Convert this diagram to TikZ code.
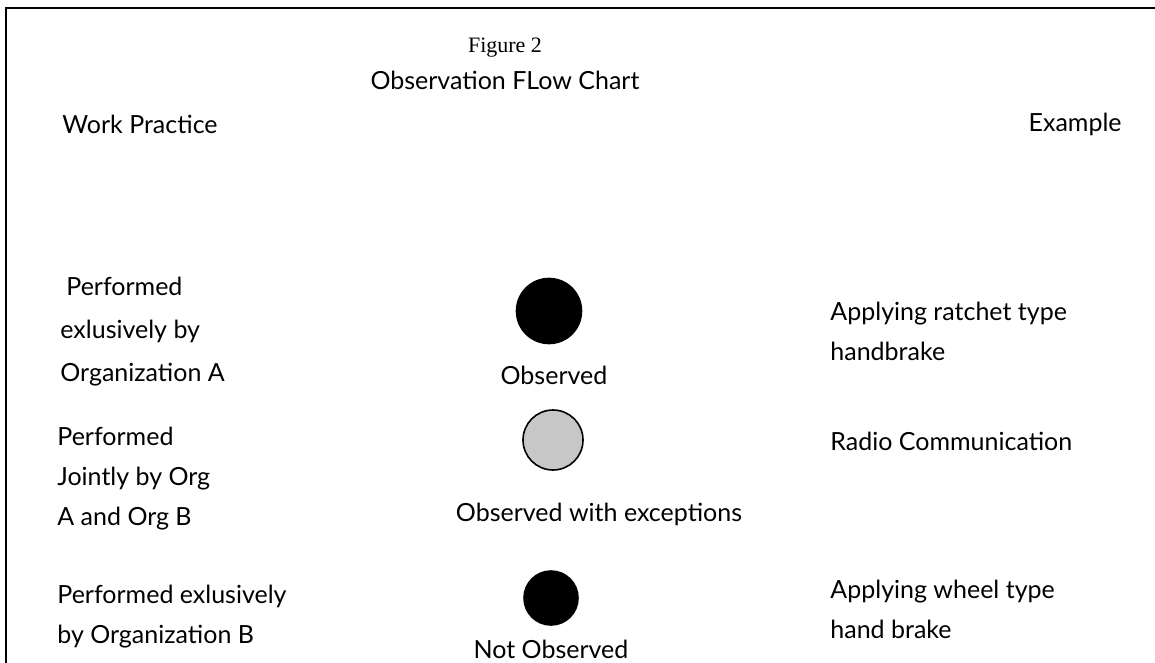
\documentclass[tikz,border=0pt]{standalone}
\usepackage{fontspec}
\setmainfont{Liberation Serif}
\newfontfamily\handfont{Lato}
\usetikzlibrary{positioning}

\begin{document}
\begin{tikzpicture}[x=0.5pt,y=-0.5pt,node distance=31pt,
    label node/.style={inner sep=0pt,align=left,font=\handfont\fontsize{12.5}{20}\selectfont},
    dot node/.style={circle,draw,thick,inner sep=0pt}]
            \useasboundingbox (0,0) rectangle (1155,663);
            \draw[line width=1pt] (6,663) -- (6,8) -- (1155,8);

            \node[inner sep=0pt,font=\fontsize{11}{13}\selectfont] (fig) at (505,48) {Figure 2};
            \node[label node] (title) [below of = fig, node distance=16pt] {Observation FLow Chart};
            \node[label node,anchor=west] (wp) at (62,124) {Work Practice};
            \node[label node,anchor=east] (ex) at (1122,124) {Example};

            % observation markers
            \node[dot node,fill=black,minimum size=32.5pt] (c1) at (549,311) {};
            \node[dot node,fill=black!22,minimum size=30pt] (c2) at (553,440) {};
            \node[dot node,fill=black,minimum size=27pt] (c3) at (551,598) {};

            \node[label node] (o1) [below of = c1, node distance=32pt, xshift=2.5pt] {Observed};
            \node[label node] (o2) [below of = c2, node distance=37pt, xshift=23pt] {Observed with exceptions};
            \node[label node] (o3) [below of = c3, node distance=25.5pt] {Not Observed};

            % work practice column
            \node[label node,anchor=west,font=\handfont\fontsize{12.5}{21.5}\selectfont] (p1) at (60,332) {\hspace{3pt}Performed\\exlusively by\\Organization A};
            \node[label node,anchor=west] (p2) at (57,479) {Performed\\Jointly by Org\\A and Org B};
            \node[label node,anchor=west] (p3) at (57,617) {Performed exlusively\\by Organization B};

            % example column
            \node[label node,anchor=west] (e1) at (830,331) {Applying ratchet type\\handbrake};
            \node[label node,anchor=west] (e2) at (830,441) {Radio Communication};
            \node[label node,anchor=west] (e3) at (830,609) {Applying wheel type\\hand brake};
        \end{tikzpicture}
\end{document}
